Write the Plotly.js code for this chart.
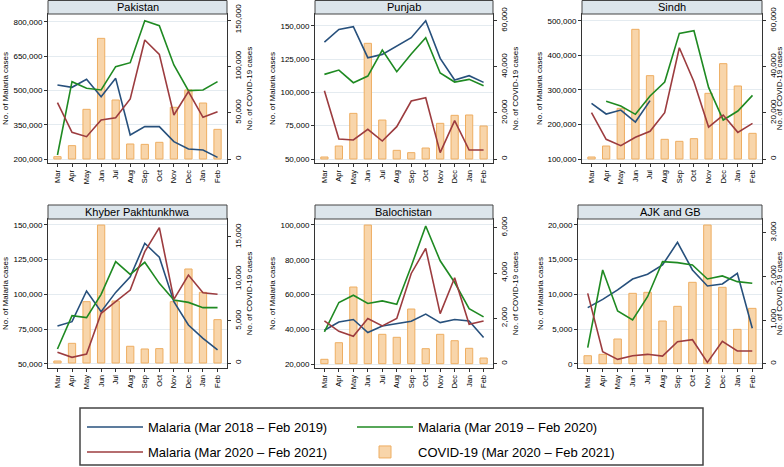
<!DOCTYPE html>
<html>
<head>
<meta charset="utf-8">
<script src="https://cdn.plot.ly/plotly-3.0.1.min.js"></script>
<style>html,body{margin:0;padding:0;background:#fff}#chart{width:784px;height:467px}</style>
</head>
<body>
<div id="chart"></div>
<script>
// ---------------- DATA ----------------
const months = ['Mar','Apr','May','Jun','Jul','Aug','Sep','Oct','Nov','Dec','Jan','Feb'];
const panelNames = ['Pakistan','Punjab','Sindh','Khyber Pakhtunkhwa','Balochistan','AJK and GB'];
const seriesNames = ['Malaria (Mar 2018 \u2013 Feb 2019)','Malaria (Mar 2019 \u2013 Feb 2020)','Malaria (Mar 2020 \u2013 Feb 2021)','COVID-19 (Mar 2020 \u2013 Feb 2021)'];

const pak_m2018 = [524000,513900,549000,473000,553300,305100,341600,341600,275900,243800,239400,207300];
const pak_m2019 = [217500,538700,509500,502200,604400,621900,805900,784000,611700,499300,502200,538700];
const pak_m2020 = [446700,316800,297800,370800,381000,462800,721200,658400,392700,494900,382500,407300];
const pak_covid = [2500,14400,53600,130200,63700,16200,15800,18000,55800,74500,60400,32000];

const pun_m2018 = [137750,147250,149250,126000,128500,134750,141000,153750,125500,109250,112500,107500];
const pun_m2019 = [113500,116750,107250,112250,131750,115500,128750,141000,114500,107750,109750,105000];
const pun_m2020 = [101250,65000,64250,72250,63500,74250,93500,96000,54750,78750,56750,56750];
const pun_covid = [870,5640,19800,50180,16900,3760,2750,4770,15470,18940,19090,14320];

const sin_m2018 = [261000,230100,241700,207000,268700,null,null,null,null,null,null,null];
const sin_m2019 = [null,266800,253300,229200,282200,322700,463400,471100,307200,212800,238800,284100];
const sin_m2020 = [234000,156900,138600,162700,180000,234000,421900,323600,192500,227200,177100,203100];
const sin_covid = [870,5640,21980,56250,36150,8530,7660,8820,28490,41360,31670,11130];

const kp_m2018 = [77200,80300,102400,87500,101400,112700,136800,126700,94700,77900,68300,59900];
const kp_m2019 = [60600,84600,83200,100000,123600,114400,123100,107900,95900,94200,90400,90400];
const kp_m2020 = [58200,54600,57000,86300,94700,103100,130800,148100,96400,113900,101200,100000];
const kp_covid = [238,2340,7300,16420,7380,1990,1670,1710,7300,11190,8410,5160];

const bal_m2018 = [39400,44200,45600,38100,41900,43300,44600,48700,43800,45600,44800,35200];
const bal_m2019 = [38500,55400,59600,54800,56300,54400,76300,99400,79400,66900,51900,47100];
const bal_m2020 = [44800,38800,36000,46200,41900,46200,72100,86500,49000,69600,42900,44800];
const bal_covid = [194,926,3383,6117,1296,1164,2412,662,1296,1014,679,251];

const ajk_m2018 = [8080,9280,10630,12210,12890,14230,17500,13510,11200,11490,13030,5100];
const ajk_m2019 = [2310,13510,7600,6300,9660,14710,14570,14230,12210,12650,11830,11590];
const ajk_m2020 = [10140,1730,625,1150,1350,1100,3170,3460,190,3220,1830,1830];
const ajk_covid = [183,215,566,1612,1635,978,1314,1864,3176,1750,787,1268];

const malaria2018 = [pak_m2018, pun_m2018, sin_m2018, kp_m2018, bal_m2018, ajk_m2018];
const malaria2019 = [pak_m2019, pun_m2019, sin_m2019, kp_m2019, bal_m2019, ajk_m2019];
const malaria2020 = [pak_m2020, pun_m2020, sin_m2020, kp_m2020, bal_m2020, ajk_m2020];
const covid = [pak_covid, pun_covid, sin_covid, kp_covid, bal_covid, ajk_covid];

// ---------------- LAYOUT CONFIG ----------------
const W = 784, H = 467;
const FONT = 'Liberation Sans, Arial, Helvetica, sans-serif';
const colors = {m2018:'#27507c', m2019:'#1f8a22', m2020:'#9c3c3f', barFill:'#f8d5aa', barLine:'#eeae62'};
// frame boxes in pixels [left, right, top, bottom]
const frames = [
  [48,227,14,163],[315,493,14,163],[582,762,14,163],
  [48,227,219,368],[315,493,219,368],[578,762,219,368]
];
const stripH = 14;
const leftRange  = [[182500,835000],[47000,158800],[88430,519400],[46900,154300],[17700,103450],[-620,20860]];
const leftTick   = [[200000,150000],[50000,25000],[100000,100000],[50000,25000],[20000,20000],[0,5000]];
const rightRange = [[-4320,156480],[-1735,62900],[-1735,62900],[-595,17140],[-190,6384],[-98,3314]];
const rightTick  = [50000,20000,20000,5000,2000,1000];

const px = v => v / W;
const py = v => 1 - v / H;

const data = [];
const layout = {
  width: W, height: H,
  margin: {l:0, r:0, t:0, b:0},
  paper_bgcolor: '#fff', plot_bgcolor: '#fff',
  font: {family: FONT, color: '#000', size: 8},
  showlegend: true,
  barmode: 'overlay',
  annotations: [], shapes: [],
  legend: {orientation:'h', x: px(82), y: py(412), xanchor:'left', yanchor:'top',
           itemwidth: 56, entrywidth: 199, font:{size:13, family: FONT}, bgcolor:'rgba(0,0,0,0)', borderwidth:0},
  legend2: {orientation:'h', x: px(82), y: py(437), xanchor:'left', yanchor:'top',
           itemwidth: 56, entrywidth: 199, font:{size:13, family: FONT}, bgcolor:'rgba(0,0,0,0)', borderwidth:0}
};

for (let i = 0; i < 6; i++) {
  const k = i + 1;
  const [L, R, T, B] = frames[i];
  const xName = k === 1 ? 'x' : 'x' + k;
  const barYNum = 2 * k - 1, lineYNum = 2 * k;
  const barY = barYNum === 1 ? 'y' : 'y' + barYNum;
  const lineY = 'y' + lineYNum;
  const xKey = k === 1 ? 'xaxis' : 'xaxis' + k;
  const barYKey = barYNum === 1 ? 'yaxis' : 'yaxis' + barYNum;
  const lineYKey = 'yaxis' + lineYNum;

  layout[xKey] = {
    domain: [px(L), px(R)], anchor: barY, type: 'category',
    range: [-0.65, 11.65], tickangle: -90, ticks: 'outside', ticklen: 3, tickwidth: 1,
    tickcolor: '#333', tickfont: {size: 7.5}, showline: true, mirror: true,
    linecolor: '#333', linewidth: 1, showgrid: false, zeroline: false, fixedrange: true
  };
  layout[barYKey] = {
    domain: [py(B), py(T)], anchor: xName, side: 'right',
    range: rightRange[i], tick0: 0, dtick: rightTick[i], tickformat: ',',
    tickangle: -90, ticks: 'outside', ticklen: 3, tickcolor: '#333', tickfont: {size: 8},
    showline: true, linecolor: '#333', linewidth: 1, showgrid: false, zeroline: false,
    title: {text: 'No. of COVID-19 cases', font: {size: 8}, standoff: 4}
  };
  layout[lineYKey] = {
    overlaying: barY, anchor: xName, side: 'left',
    range: leftRange[i], tick0: leftTick[i][0], dtick: leftTick[i][1], tickformat: ',',
    ticks: 'outside', ticklen: 3, tickcolor: '#333', tickfont: {size: 8},
    showline: true, linecolor: '#333', linewidth: 1,
    showgrid: true, gridcolor: '#e4ebf0', gridwidth: 1, zeroline: false,
    title: {text: 'No. of Malaria cases', font: {size: 8}, standoff: 3}
  };

  // COVID bars (right axis)
  data.push({
    type: 'bar', x: months, y: covid[i], xaxis: xName, yaxis: barY, width: 0.5,
    name: seriesNames[3], legend: 'legend2', legendrank: 2, showlegend: i === 0,
    marker: {color: colors.barFill, line: {color: colors.barLine, width: 1}},
    hoverinfo: 'skip'
  });
  const lineSets = [[malaria2018[i], colors.m2018, seriesNames[0], 'legend', 1],
                    [malaria2019[i], colors.m2019, seriesNames[1], 'legend', 2],
                    [malaria2020[i], colors.m2020, seriesNames[2], 'legend2', 1]];
  lineSets.forEach(([ys, c, nm, lg, rk]) => {
    data.push({
      type: 'scatter', mode: 'lines', x: months, y: ys, xaxis: xName, yaxis: lineY,
      name: nm, legend: lg, legendrank: rk, showlegend: i === 0, connectgaps: false,
      line: {color: c, width: 1.6}, hoverinfo: 'skip'
    });
  });

  // panel strip
  layout.shapes.push({
    type: 'rect', xref: 'paper', yref: 'paper',
    x0: px(L), x1: px(R), y0: py(T), y1: py(Math.max(T - stripH, 0.5)),
    fillcolor: '#dce5eb', line: {color: '#444', width: 1}, layer: 'above'
  });
  layout.annotations.push({
    xref: 'paper', yref: 'paper', x: px((L + R) / 2), y: py(T - stripH / 2),
    text: panelNames[i], showarrow: false, font: {size: 11, color: '#000'},
    xanchor: 'center', yanchor: 'middle'
  });
}

// legend frame
layout.shapes.push({
  type: 'rect', xref: 'paper', yref: 'paper',
  x0: px(80), x1: px(703), y0: py(465), y1: py(408),
  line: {color: '#444', width: 1.5}, fillcolor: 'rgba(0,0,0,0)'
});

Plotly.newPlot('chart', data, layout, {displayModeBar: false, staticPlot: true});
</script>
</body>
</html>
